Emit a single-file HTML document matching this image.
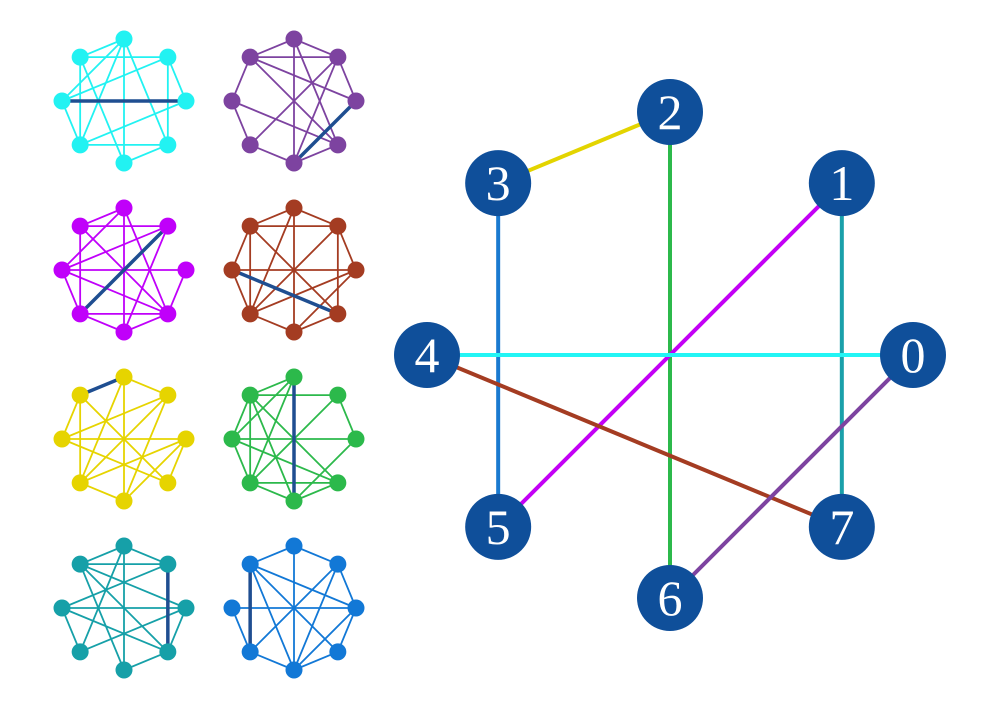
<!DOCTYPE html>
<html><head><meta charset="utf-8"><style>
html,body{margin:0;padding:0;background:#fff;width:1006px;height:705px;overflow:hidden}
svg{display:block}
</style></head><body>
<svg id="chart" width="1006" height="705" viewBox="0 0 1006 705" xmlns="http://www.w3.org/2000/svg">
<g id="small"></g>
<g id="big"></g>
</svg>
<script>
const nodeLabels = ["0","1","2","3","4","5","6","7"];
const bigEdges = [[3,2],[2,6],[3,5],[1,5],[1,7],[4,0],[4,7],[0,6]];
const bigColors = ["#e3d400","#2cb94b","#1a7ad0","#c300f5","#1aa0aa","#22f5f5","#a43c22","#7d43a0"];
const smallColors = ["#22f2f2","#7d43a0","#c000fa","#a43c22","#e6d400","#2cb94b","#16a0a8","#1278d6"];
const smallHighlights = [[4,0],[0,6],[1,5],[4,7],[3,2],[2,6],[1,7],[3,5]];
const smallEdges = [
 [[3,2],[3,1],[2,4],[2,5],[3,5],[1,7],[2,6],[4,1],[5,0],[5,7],[7,6],[3,6],[2,7],[4,5],[1,0]],
 [[3,2],[2,1],[3,1],[2,6],[3,0],[3,7],[1,0],[1,5],[1,6],[2,7],[4,3],[4,5],[4,7],[5,6],[6,7]],
 [[3,2],[3,1],[3,5],[2,4],[2,7],[2,6],[1,4],[1,6],[4,0],[4,5],[4,7],[3,7],[5,7],[0,7],[6,7],[6,5]],
 [[3,2],[2,1],[3,1],[2,5],[2,6],[3,5],[3,7],[1,5],[4,0],[4,3],[4,5],[0,5],[0,1],[0,6],[6,5],[6,7],[7,1]],
 [[2,1],[2,6],[2,5],[3,5],[3,4],[3,7],[1,4],[1,5],[1,6],[4,0],[4,7],[0,5],[0,6],[0,7],[5,6]],
 [[3,2],[3,1],[2,4],[2,5],[3,5],[3,6],[3,7],[1,0],[1,5],[4,0],[4,3],[4,5],[4,7],[5,7],[6,5],[6,7],[6,0]],
 [[3,2],[2,1],[3,1],[2,5],[2,6],[3,0],[3,6],[3,7],[4,0],[4,1],[4,5],[4,7],[5,0],[6,7],[0,7]],
 [[3,2],[2,1],[2,6],[3,0],[3,6],[3,7],[1,0],[1,5],[1,6],[4,0],[4,5],[5,6],[0,6],[7,6],[7,0]]
];
const NS="http://www.w3.org/2000/svg";
function mk(tag,attrs,parent){const e=document.createElementNS(NS,tag);for(const k in attrs)e.setAttribute(k,attrs[k]);parent.appendChild(e);return e;}
function pos(cx,cy,r,k){const a=k*Math.PI/4;return [cx+r*Math.cos(a),cy-r*Math.sin(a)];}
const big=document.getElementById('big');
const BCX=670,BCY=355,BR=243;
bigEdges.forEach((ed,i)=>{
  const p=pos(BCX,BCY,BR,ed[0]),q=pos(BCX,BCY,BR,ed[1]);
  const l=mk('line',{x1:p[0],y1:p[1],x2:q[0],y2:q[1],stroke:bigColors[i],'stroke-width':4},big);
  
  
});
nodeLabels.forEach((lab,k)=>{
  const p=pos(BCX,BCY,BR,k);
  const g=mk('g',{},big);
  
  
  mk('circle',{cx:p[0],cy:p[1],r:33,fill:'#0f4f9a'},g);
  const t=mk('text',{x:p[0],y:p[1]+17,'text-anchor':'middle','font-size':50,fill:'#fff','font-family':'"Liberation Serif",serif'},g);
  t.textContent=lab;
});
const small=document.getElementById('small');
const centers=[[124,101],[294,101],[124,270],[294,270],[124,439],[294,439],[124,608],[294,608]];
const SR=62;
smallEdges.forEach((edges,i)=>{
  const [cx,cy]=centers[i];
  const g=mk('g',{},small);
  
  
  edges.forEach(ed=>{
    const p=pos(cx,cy,SR,ed[0]),q=pos(cx,cy,SR,ed[1]);
    mk('line',{x1:p[0],y1:p[1],x2:q[0],y2:q[1],stroke:smallColors[i],'stroke-width':1.8},g);
  });
  const h=smallHighlights[i];
  const p=pos(cx,cy,SR,h[0]),q=pos(cx,cy,SR,h[1]);
  const hl=mk('line',{x1:p[0],y1:p[1],x2:q[0],y2:q[1],stroke:'#1f4e91','stroke-width':3.5},g);
  
  
  for(let k=0;k<8;k++){const n=pos(cx,cy,SR,k);mk('circle',{cx:n[0],cy:n[1],r:8.5,fill:smallColors[i]},g);}
});
</script>
</body></html>
